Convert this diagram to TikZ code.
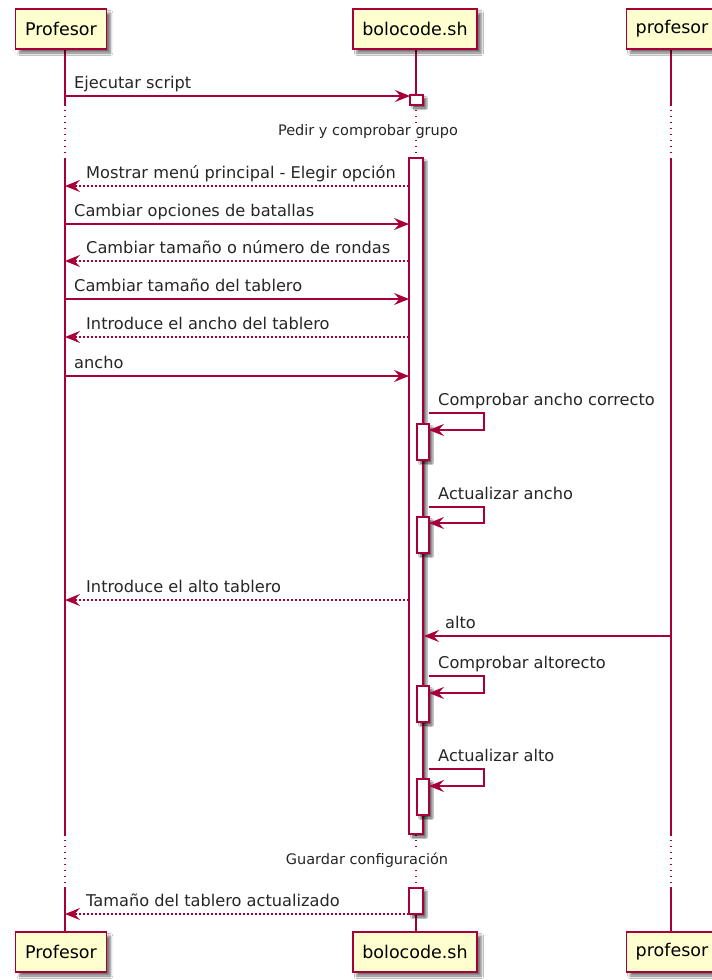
\documentclass[tikz,border=0pt]{standalone}
\usepackage{fontspec}
\setmainfont{DejaVu Sans}
\usetikzlibrary{arrows.meta,shadows.blur}
\definecolor{umlred}{HTML}{A80036}
\definecolor{umlfill}{HTML}{FEFECE}

\begin{document}
\begin{tikzpicture}[x=1pt,y=-1pt,
  party/.style={draw=umlred, fill=umlfill, line width=1.4pt,
    font=\fontsize{17.5}{20}\selectfont, minimum height=40pt, inner xsep=9.5pt,
    blur shadow={shadow xshift=4pt, shadow yshift=-4pt, shadow blur radius=2.5pt, shadow opacity=55}},
  life/.style={umlred, line width=1.25pt},
  delayline/.style={umlred, line width=1.25pt, dash pattern=on 1pt off 5pt},
  actbar/.style={draw=umlred, fill=white, line width=1.2pt,
    blur shadow={shadow xshift=3pt, shadow yshift=-3pt, shadow blur radius=1.5pt, shadow opacity=60}},
  msg/.style={umlred, line width=1.2pt, -{Stealth[length=15pt,width=12pt,inset=5.5pt]}},
  ret/.style={msg, dash pattern=on 2pt off 2pt},
  lbl/.style={font=\fontsize{16.2}{19}\selectfont, text=black!85, anchor=base west, inner sep=0pt},
  dlbl/.style={font=\fontsize{14.5}{17}\selectfont, text=black!85, fill=white, inner sep=1pt},
]
\useasboundingbox (0,0) rectangle (712,980);
\clip (0,0) rectangle (712,980);
\fill[white] (0,0) rectangle (712,980);

% lifelines, broken by the two delays
\foreach \lx in {65,416,671}{
  \draw[life] (\lx,49) -- (\lx,106);
  \draw[delayline] (\lx,110) -- (\lx,156);
  \draw[life] (\lx,158) -- (\lx,836);
  \draw[delayline] (\lx,840) -- (\lx,885);
  \draw[life] (\lx,887) -- (\lx,932);
}

% participants
\node[party] (pA) at (61,29) {Profesor};
\node[party] (pB) at (415,29) {bolocode.sh};
\node[party] (pC) at (672,29) {profesor};
\node[party] (qA) at (61,952) {Profesor};
\node[party] (qB) at (415,952) {bolocode.sh};
\node[party] (qC) at (672,952) {profesor};

% activations of bolocode.sh
\draw[actbar] (410,95) rectangle (423,105);
\draw[actbar] (409,158) rectangle (423,834);
\draw[actbar] (409,888) rectangle (423,914);
\draw[actbar] (417,424) rectangle (429,460);
\draw[actbar] (417,517) rectangle (429,553);
\draw[actbar] (417,686) rectangle (429,722);
\draw[actbar] (417,779) rectangle (429,815);

% delay notes
\node[dlbl] (d1) at (368,131) {Pedir y comprobar grupo};
\node[dlbl] (d2) at (367,860) {Guardar configuración};

% message end points
\coordinate (a1) at (65,96);   \coordinate (b1) at (410,96);
\coordinate (a2) at (65,186);  \coordinate (b2) at (409,186);
\coordinate (a3) at (65,224);  \coordinate (b3) at (409,224);
\coordinate (a4) at (65,261);  \coordinate (b4) at (409,261);
\coordinate (a5) at (65,299);  \coordinate (b5) at (409,299);
\coordinate (a6) at (65,337);  \coordinate (b6) at (409,337);
\coordinate (a7) at (65,376);  \coordinate (b7) at (409,376);
\coordinate (a8) at (65,600);  \coordinate (b8) at (409,600);
\coordinate (c9) at (671,636); \coordinate (b9) at (424,636);
\coordinate (a10) at (65,914); \coordinate (b10) at (409,914);

\draw[msg] (a1) -- (b1);
\draw[ret] (b2) -- (a2);
\draw[msg] (a3) -- (b3);
\draw[ret] (b4) -- (a4);
\draw[msg] (a5) -- (b5);
\draw[ret] (b6) -- (a6);
\draw[msg] (a7) -- (b7);
\draw[ret] (b8) -- (a8);
\draw[msg] (c9) -- (b9);
\draw[ret] (b10) -- (a10);

\node[lbl] (t1) at (74,88) {Ejecutar script};
\node[lbl] (t2) at (86,178) {Mostrar menú principal - Elegir opción};
\node[lbl] (t3) at (74,216) {Cambiar opciones de batallas};
\node[lbl] (t4) at (86,253) {Cambiar tamaño o número de rondas};
\node[lbl] (t5) at (74,291) {Cambiar tamaño del tablero};
\node[lbl] (t6) at (86,329) {Introduce el ancho del tablero};
\node[lbl] (t7) at (74,368) {ancho};
\node[lbl] (t8) at (86,592) {Introduce el alto tablero};
\node[lbl] (t9) at (445,628) {alto};
\node[lbl] (t10) at (86,906) {Tamaño del tablero actualizado};

% self messages
\foreach \top/\bot/\txt/\nm in {413/430/{Comprobar ancho correcto}/s1,
                               507/523/{Actualizar ancho}/s2,
                               676/693/{Comprobar altorecto}/s3,
                               769/786/{Actualizar alto}/s4}{
  \coordinate (\nm o) at (429,\top);
  \coordinate (\nm i) at (429,\bot);
  \draw[msg] (\nm o) -- (484,\top) -- (484,\bot) -- (\nm i);
  \node[lbl] (\nm t) at (438,\top-8) {\txt};
}
\end{tikzpicture}
\end{document}
